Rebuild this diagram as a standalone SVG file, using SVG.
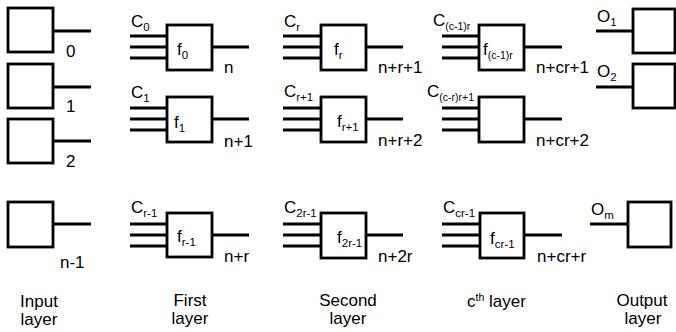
<svg xmlns="http://www.w3.org/2000/svg" width="676" height="332" viewBox="0 0 676 332">
<style>
.box{fill:#fff;stroke:#000;stroke-width:2.8}
.ln{stroke:#000;stroke-width:2.8;fill:none}
text{font-family:"Liberation Sans",Arial,Helvetica,sans-serif;font-size:17px;fill:#000}
.s{font-size:11.5px}
.ss{font-size:10.5px}
.c{text-anchor:middle}
</style>
<rect width="676" height="332" fill="#fff"/>
<g id="connectors">
<line class="ln" x1="53" y1="31" x2="91" y2="31"/>
<line class="ln" x1="53" y1="87" x2="91" y2="87"/>
<line class="ln" x1="53" y1="141" x2="91" y2="141"/>
<line class="ln" x1="53" y1="224" x2="91" y2="224"/>
<path class="ln" d="M130 36H167M130 47H167M130 58H167M212 47H249"/>
<path class="ln" d="M130 108H167M130 119H167M130 130H167M212 119H249"/>
<path class="ln" d="M130 224H167M130 235H167M130 246H167M212 235H249"/>
<path class="ln" d="M283 36H321M283 47H321M283 58H321M366 47H403"/>
<path class="ln" d="M283 108H321M283 119H321M283 130H321M366 119H403"/>
<path class="ln" d="M283 224H321M283 235H321M283 246H321M366 235H403"/>
<path class="ln" d="M442 36H479M442 47H479M442 58H479M524 47H562"/>
<path class="ln" d="M442 108H479M442 119H479M442 130H479M524 119H562"/>
<path class="ln" d="M442 224H480M442 235H480M442 246H480M524 235H562"/>
<line class="ln" x1="596" y1="31" x2="633" y2="31"/>
<line class="ln" x1="596" y1="87" x2="633" y2="87"/>
<line class="ln" x1="590" y1="224" x2="628" y2="224"/>
</g>
<g id="in0"><rect class="box" x="8" y="8" width="45" height="44"/><text x="66" y="57">0</text></g>
<g id="in1"><rect class="box" x="8" y="64" width="45" height="44"/><text x="66" y="112">1</text></g>
<g id="in2"><rect class="box" x="8" y="119" width="45" height="44"/><text x="66" y="167">2</text></g>
<g id="in3"><rect class="box" x="8" y="202" width="45" height="45"/><text x="60" y="268">n-1</text></g>

<g id="f0"><rect class="box" x="167" y="25" width="45" height="45"/>
<text x="131" y="27">C<tspan class="s" dy="4">0</tspan></text>
<text x="177" y="55">f<tspan class="s" dy="4">0</tspan></text>
<text x="224" y="73">n</text></g>
<g id="f1"><rect class="box" x="167" y="97" width="45" height="45"/>
<text x="131" y="98">C<tspan class="s" dy="4">1</tspan></text>
<text x="174" y="128">f<tspan class="s" dy="4">1</tspan></text>
<text x="224" y="147">n+1</text></g>
<g id="fr-1"><rect class="box" x="167" y="213" width="45" height="44"/>
<text x="131" y="213">C<tspan class="s" dy="4">r-1</tspan></text>
<text x="177" y="242">f<tspan class="s" dy="4">r-1</tspan></text>
<text x="224" y="262">n+r</text></g>

<g id="fr"><rect class="box" x="321" y="25" width="45" height="45"/>
<text x="284" y="27">C<tspan class="s" dy="4">r</tspan></text>
<text x="334" y="55">f<tspan class="s" dy="4">r</tspan></text>
<text x="378" y="73">n+r+1</text></g>
<g id="fr+1"><rect class="box" x="321" y="97" width="45" height="45"/>
<text x="284" y="97">C<tspan class="s" dy="4">r+1</tspan></text>
<text x="337" y="127">f<tspan class="s" dy="4">r+1</tspan></text>
<text x="378" y="146">n+r+2</text></g>
<g id="f2r-1"><rect class="box" x="321" y="213" width="45" height="45"/>
<text x="284" y="213">C<tspan class="s" dy="4">2r-1</tspan></text>
<text x="337" y="243">f<tspan class="s" dy="4">2r-1</tspan></text>
<text x="378" y="262">n+2r</text></g>

<g id="fc1r"><rect class="box" x="479" y="25" width="45" height="45"/>
<text x="433" y="26">C<tspan class="ss" dy="4">(c-1)r</tspan></text>
<text x="483" y="55">f<tspan class="ss" dy="4">(c-1)r</tspan></text>
<text x="536" y="73">n+cr+1</text></g>
<g id="fcrr1"><rect class="box" x="479" y="97" width="45" height="45"/>
<text x="427" y="97">C<tspan class="ss" dy="4">(c-r)r+1</tspan></text>
<text x="536" y="146">n+cr+2</text></g>
<g id="fcr-1"><rect class="box" x="480" y="213" width="44" height="45"/>
<text x="443" y="213">C<tspan class="s" dy="4">cr-1</tspan></text>
<text x="490" y="244">f<tspan class="s" dy="4">cr-1</tspan></text>
<text x="537" y="262">n+cr+r</text></g>

<g id="o1"><rect class="box" x="633" y="9" width="42" height="44"/>
<text x="597" y="22">O<tspan class="s" dy="4">1</tspan></text></g>
<g id="o2"><rect class="box" x="633" y="64" width="42" height="44"/>
<text x="597" y="77">O<tspan class="s" dy="4">2</tspan></text></g>
<g id="om"><rect class="box" x="628" y="202" width="43" height="45"/>
<text x="591" y="215">O<tspan class="s" dy="4">m</tspan></text></g>

<g id="labels">
<text class="c" x="39" y="307">Input</text>
<text class="c" x="39" y="325">layer</text>
<text class="c" x="190" y="306">First</text>
<text class="c" x="190" y="324">layer</text>
<text class="c" x="348" y="306">Second</text>
<text class="c" x="348" y="324">layer</text>
<text x="467" y="307">c<tspan class="ss" dy="-6">th</tspan><tspan dy="6"> layer</tspan></text>
<text class="c" x="642" y="306">Output</text>
<text class="c" x="643" y="324">layer</text>
</g>
</svg>
